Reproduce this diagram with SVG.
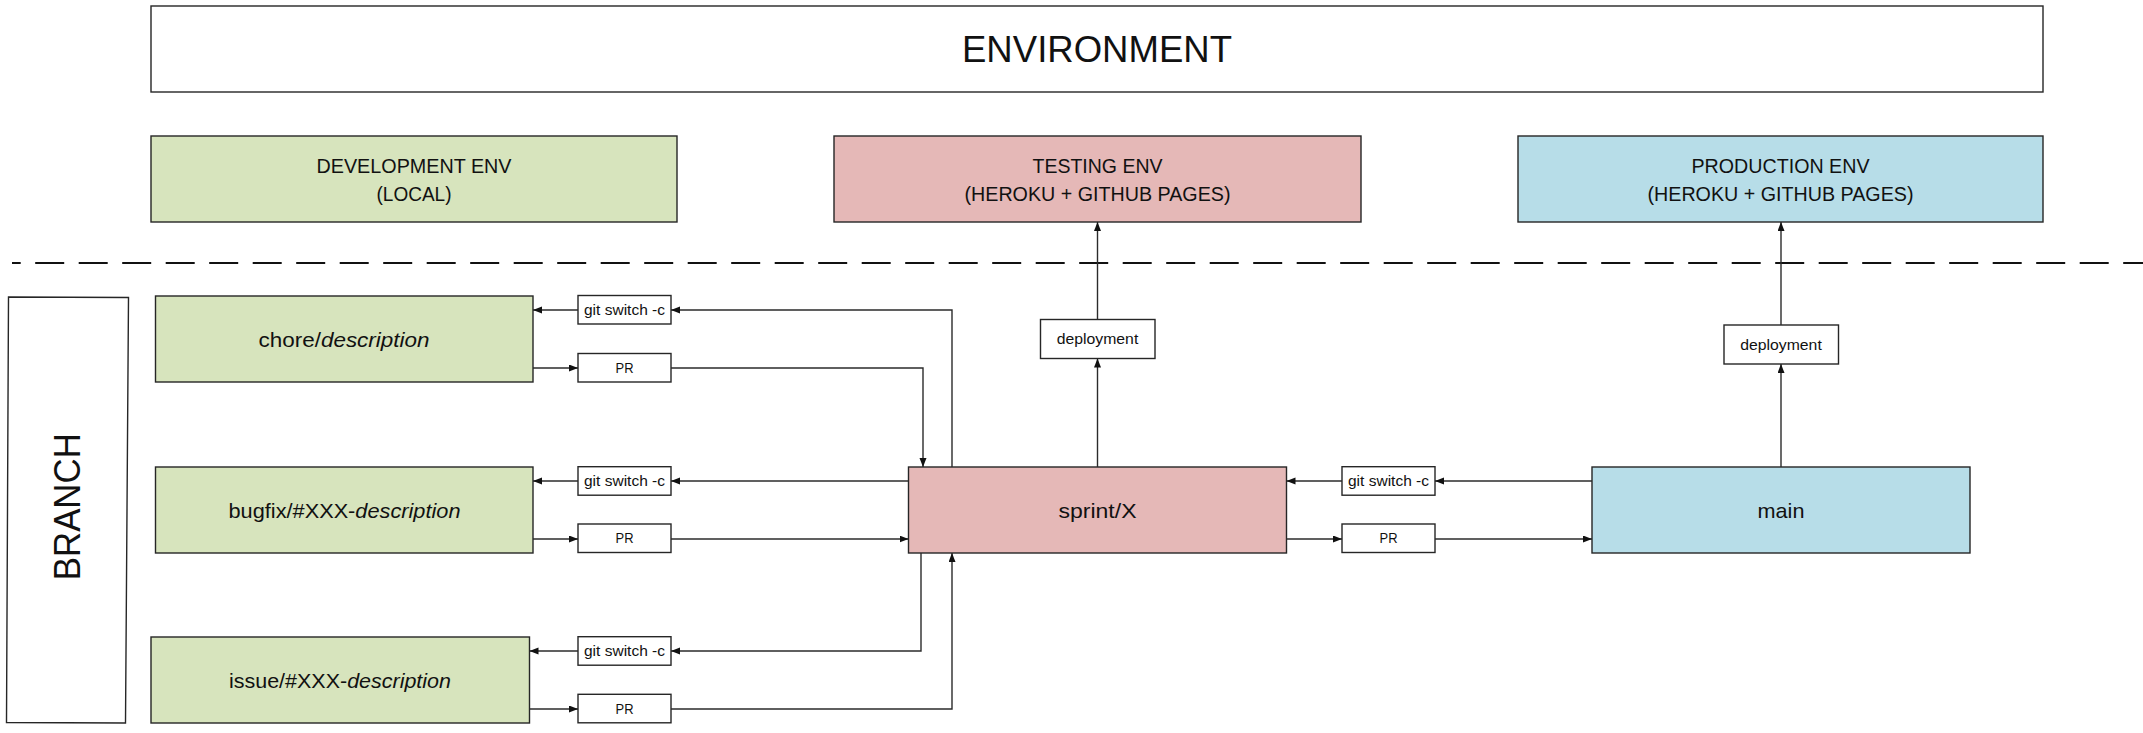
<svg xmlns="http://www.w3.org/2000/svg" width="2143" height="733" viewBox="0 0 2143 733">
<defs>
<style>
.box{stroke:#262626;stroke-width:1.4}
.w{fill:#ffffff}
.g{fill:#D7E4BD}
.r{fill:#E5B8B7}
.b{fill:#B7DDE8}
.t{font-family:"Liberation Sans",Arial,sans-serif;fill:#111;text-anchor:middle}
.c{fill:none;stroke:#2b2b2b;stroke-width:1.4}
</style>
<marker id="ah" markerUnits="userSpaceOnUse" markerWidth="10" markerHeight="8" refX="9" refY="3.5" orient="auto">
<path d="M0,0 L9,3.5 L0,7 z" fill="#111"/>
</marker>
</defs>
<rect width="2143" height="733" fill="#ffffff"/>

<g id="environment">
<rect class="box w" x="151" y="6" width="1892" height="86"/>
<text class="t" x="1097" y="61.5" font-size="36" textLength="270" lengthAdjust="spacingAndGlyphs">ENVIRONMENT</text>
</g>
<g id="dev-env">
<rect class="box g" x="151" y="136" width="526" height="86"/>
<text class="t" x="414" y="173" font-size="20" textLength="195" lengthAdjust="spacingAndGlyphs">DEVELOPMENT ENV</text>
<text class="t" x="414" y="201" font-size="20" textLength="75" lengthAdjust="spacingAndGlyphs">(LOCAL)</text>
</g>
<g id="testing-env">
<rect class="box r" x="834" y="136" width="527" height="86"/>
<text class="t" x="1097.5" y="173" font-size="20" textLength="130" lengthAdjust="spacingAndGlyphs">TESTING ENV</text>
<text class="t" x="1097.5" y="201" font-size="20" textLength="266" lengthAdjust="spacingAndGlyphs">(HEROKU + GITHUB PAGES)</text>
</g>
<g id="production-env">
<rect class="box b" x="1518" y="136" width="525" height="86"/>
<text class="t" x="1780.5" y="173" font-size="20" textLength="178" lengthAdjust="spacingAndGlyphs">PRODUCTION ENV</text>
<text class="t" x="1780.5" y="201" font-size="20" textLength="266" lengthAdjust="spacingAndGlyphs">(HEROKU + GITHUB PAGES)</text>
</g>

<g id="separator">
<line x1="12" y1="263" x2="2143" y2="263" stroke="#111" stroke-width="2" stroke-dasharray="29 14.5" stroke-dashoffset="20.3"/>
</g>

<g id="branch">
<polygon class="box w" points="8.5,297 128.5,297.5 125.5,723 6.5,722.5"/>
<text class="t" transform="translate(80,506.7) rotate(-90)" x="0" y="0" font-size="37" textLength="147" lengthAdjust="spacingAndGlyphs">BRANCH</text>
</g>

<g id="chore">
<rect class="box g" x="155.5" y="296" width="377.5" height="86"/>
<text class="t" x="344" y="346.5" font-size="21" textLength="171" lengthAdjust="spacingAndGlyphs">chore/<tspan font-style="italic">description</tspan></text>
</g>
<g id="bugfix">
<rect class="box g" x="155.5" y="467" width="377.5" height="86"/>
<text class="t" x="344.5" y="517.5" font-size="21" textLength="232" lengthAdjust="spacingAndGlyphs">bugfix/#XXX-<tspan font-style="italic">description</tspan></text>
</g>
<g id="issue">
<rect class="box g" x="151" y="637" width="378.5" height="86"/>
<text class="t" x="340" y="687.5" font-size="21" textLength="222" lengthAdjust="spacingAndGlyphs">issue/#XXX-<tspan font-style="italic">description</tspan></text>
</g>
<g id="sprint">
<rect class="box r" x="908.5" y="467" width="378" height="86"/>
<text class="t" x="1097.5" y="517.5" font-size="21" textLength="78" lengthAdjust="spacingAndGlyphs">sprint/X</text>
</g>
<g id="main">
<rect class="box b" x="1592" y="467" width="378" height="86"/>
<text class="t" x="1781" y="517.5" font-size="21" textLength="47" lengthAdjust="spacingAndGlyphs">main</text>
</g>

<g id="switch-chore">
<rect class="box w" x="578" y="295.5" width="93" height="28.5"/>
<text class="t" x="624.5" y="314.8" font-size="15" textLength="81" lengthAdjust="spacingAndGlyphs">git switch -c</text>
</g>
<g id="pr-chore">
<rect class="box w" x="578" y="353.5" width="93" height="28.5"/>
<text class="t" x="624.5" y="372.8" font-size="15" textLength="18" lengthAdjust="spacingAndGlyphs">PR</text>
</g>
<g id="switch-bugfix">
<rect class="box w" x="578" y="466.7" width="93" height="28.5"/>
<text class="t" x="624.5" y="486" font-size="15" textLength="81" lengthAdjust="spacingAndGlyphs">git switch -c</text>
</g>
<g id="pr-bugfix">
<rect class="box w" x="578" y="524" width="93" height="28.5"/>
<text class="t" x="624.5" y="543.3" font-size="15" textLength="18" lengthAdjust="spacingAndGlyphs">PR</text>
</g>
<g id="switch-issue">
<rect class="box w" x="578" y="636.7" width="93" height="28.5"/>
<text class="t" x="624.5" y="656" font-size="15" textLength="81" lengthAdjust="spacingAndGlyphs">git switch -c</text>
</g>
<g id="pr-issue">
<rect class="box w" x="578" y="694.3" width="93" height="28.5"/>
<text class="t" x="624.5" y="713.6" font-size="15" textLength="18" lengthAdjust="spacingAndGlyphs">PR</text>
</g>
<g id="switch-main">
<rect class="box w" x="1342" y="466.7" width="93" height="28.5"/>
<text class="t" x="1388.5" y="486" font-size="15" textLength="81" lengthAdjust="spacingAndGlyphs">git switch -c</text>
</g>
<g id="pr-main">
<rect class="box w" x="1342" y="524" width="93" height="28.5"/>
<text class="t" x="1388.5" y="543.3" font-size="15" textLength="18" lengthAdjust="spacingAndGlyphs">PR</text>
</g>
<g id="deploy-testing">
<rect class="box w" x="1040.5" y="319.5" width="114.5" height="39"/>
<text class="t" x="1097.5" y="344" font-size="15" textLength="81.6" lengthAdjust="spacingAndGlyphs">deployment</text>
</g>
<g id="deploy-production">
<rect class="box w" x="1724" y="325" width="114.5" height="39"/>
<text class="t" x="1781" y="349.5" font-size="15" textLength="81.6" lengthAdjust="spacingAndGlyphs">deployment</text>
</g>

<g id="connectors">
<path class="c" d="M952,467 V310 H671" marker-end="url(#ah)"/>
<path class="c" d="M578,310 H533" marker-end="url(#ah)"/>
<path class="c" d="M533,368 H578" marker-end="url(#ah)"/>
<path class="c" d="M671,368 H923 V467" marker-end="url(#ah)"/>
<path class="c" d="M908.5,481 H671" marker-end="url(#ah)"/>
<path class="c" d="M578,481 H533" marker-end="url(#ah)"/>
<path class="c" d="M533,539 H578" marker-end="url(#ah)"/>
<path class="c" d="M671,539 H908.5" marker-end="url(#ah)"/>
<path class="c" d="M921,553 V651 H671" marker-end="url(#ah)"/>
<path class="c" d="M578,651 H529.5" marker-end="url(#ah)"/>
<path class="c" d="M529.5,709 H578" marker-end="url(#ah)"/>
<path class="c" d="M671,709 H952 V553" marker-end="url(#ah)"/>
<path class="c" d="M1097.5,467 V358.5" marker-end="url(#ah)"/>
<path class="c" d="M1097.5,319.5 V222" marker-end="url(#ah)"/>
<path class="c" d="M1592,481 H1435" marker-end="url(#ah)"/>
<path class="c" d="M1342,481 H1286.5" marker-end="url(#ah)"/>
<path class="c" d="M1286.5,539 H1342" marker-end="url(#ah)"/>
<path class="c" d="M1435,539 H1592" marker-end="url(#ah)"/>
<path class="c" d="M1781,467 V364" marker-end="url(#ah)"/>
<path class="c" d="M1781,325 V222" marker-end="url(#ah)"/>
</g>
</svg>
